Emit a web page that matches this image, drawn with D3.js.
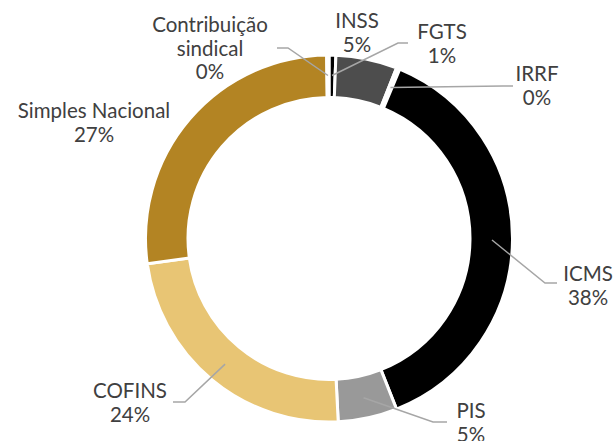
<!DOCTYPE html>
<html>
<head>
<meta charset="utf-8">
<script src="https://cdn.jsdelivr.net/npm/d3@7"></script>
<style>
  html, body { margin:0; padding:0; background:#fff; }
  svg { display:block; }
</style>
</head>
<body>
<svg width="613" height="441"></svg>
<script>
// tributos, in clockwise order from 12 o'clock
let categories = ["FGTS", "INSS", "IRRF", "ICMS", "PIS", "COFINS", "Simples Nacional", "Contribuição sindical"];
let values = [0.6, 5.4, 0.3, 37.7, 5.2, 23.6, 27.0, 0.2];
let colors = ["#000000", "#4d4d4d", "#ffffff", "#000000", "#999999", "#e8c574", "#b38423", "#7f7f7f"];

// label placement (text center x, first baseline y) and leader line elbow / end
let labelLines = [
  ["FGTS"], ["INSS"], ["IRRF"], ["ICMS"], ["PIS"], ["COFINS"],
  ["Simples Nacional"], ["Contribuição", "sindical"]
];
let labelPos = [[442, 39], [357, 28], [537, 81], [588, 281], [471, 418], [130, 398], [94, 118], [210, 32]];
let leaders = [
  [[398, 43], [408, 43]],
  null,
  [[503, 86], [513, 86]],
  [[545, 283], [557, 283]],
  [[433, 422], [447, 422]],
  [[185, 402], [173, 402]],
  null,
  [[288, 48], [277, 48]]
];

let cx = 329, cy = 238.5;
let outerR = 183.5, innerR = 141;

let svg = d3.select("svg");
let g = svg.append("g").attr("transform", "translate(" + cx + "," + cy + ")");

let total = d3.sum(values);
let pie = d3.pie().sort(null).value(d => d.v)(values.map((v, i) => ({v: v, i: i})));

let arc = d3.arc().innerRadius(innerR).outerRadius(outerR);
let midArc = d3.arc().innerRadius(156).outerRadius(170);

g.selectAll("path.slice")
  .data(pie)
  .join("path")
  .attr("class", "slice")
  .attr("d", arc)
  .attr("fill", d => colors[d.data.i])
  .attr("stroke", "#ffffff")
  .attr("stroke-width", 3)
  .attr("stroke-linejoin", "miter");

// leader lines
let lineData = pie.filter(d => leaders[d.data.i] != null);
g.selectAll("polyline.leader")
  .data(lineData)
  .join("polyline")
  .attr("class", "leader")
  .attr("points", d => {
    let c = midArc.centroid(d);
    let pts = [c].concat(leaders[d.data.i].map(p => [p[0] - cx, p[1] - cy]));
    return pts.map(p => p.join(",")).join(" ");
  })
  .attr("fill", "none")
  .attr("stroke", "#a6a6a6")
  .attr("stroke-width", 1.5);

// labels
let labels = svg.selectAll("text.lbl")
  .data(pie)
  .join("text")
  .attr("class", "lbl")
  .attr("x", d => labelPos[d.data.i][0])
  .attr("y", d => labelPos[d.data.i][1])
  .attr("text-anchor", "middle")
  .style("font-family", "Lato, 'Open Sans', sans-serif")
  .style("font-size", "20.5px")
  .style("fill", "#404040");

labels.each(function(d){
  let lines = labelLines[d.data.i].concat([Math.round(d.data.v / total * 100) + "%"]);
  let t = d3.select(this);
  lines.forEach((s, k) => {
    t.append("tspan")
      .attr("x", labelPos[d.data.i][0])
      .attr("dy", k == 0 ? 0 : 23.5)
      .text(s);
  });
});
</script>
</body>
</html>
